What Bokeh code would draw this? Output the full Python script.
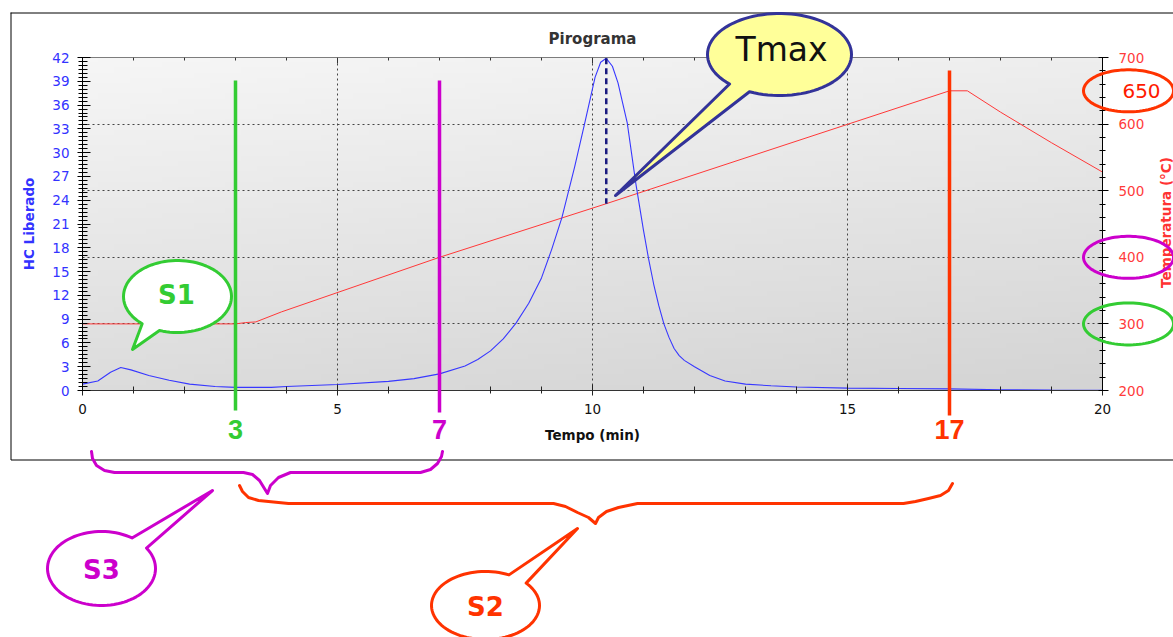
import numpy as np
from bokeh.plotting import figure
from bokeh.layouts import column
from bokeh.models import Range1d, LinearAxis, SingleIntervalTicker, FixedTicker
from bokeh.core.properties import value
from bokeh.embed import file_html
from bokeh.resources import INLINE

# ---- pyrolysis run: hydrocarbons released vs. time ----
time_min = [0.0, 0.3, 0.55, 0.75, 0.95, 1.3, 1.7, 2.1, 2.6, 3.0, 3.7, 4.0, 5.0, 6.0, 6.5,
            7.0, 7.5, 7.75, 8.0, 8.25, 8.5, 8.75, 9.0, 9.2, 9.4, 9.65, 9.85, 10.05, 10.16,
            10.27, 10.39, 10.5, 10.68, 10.85, 11.0, 11.1, 11.2, 11.3, 11.4, 11.5, 11.6,
            11.7, 11.8, 12.0, 12.3, 12.6, 13.0, 13.5, 14.0, 15.0, 16.0, 17.0, 18.0, 19.0,
            20.0]
hc_released = [0.8, 1.2, 2.3, 2.9, 2.6, 1.9, 1.3, 0.8, 0.5, 0.4, 0.4, 0.5, 0.75, 1.15, 1.5,
               2.1, 3.1, 3.9, 5.0, 6.5, 8.5, 11.0, 14.2, 17.8, 21.8, 28.2, 33.8, 39.5, 41.4,
               41.9, 40.9, 38.8, 33.8, 26.1, 20.2, 16.6, 13.4, 10.7, 8.4, 6.7, 5.3,
               4.4, 3.8, 3.0, 1.9, 1.2, 0.8, 0.6, 0.45, 0.3, 0.25, 0.2, 0.1, 0.05,
               0.02]

# ---- oven temperature programme ----
time_temp = [0.0, 3.0, 3.2, 3.4, 3.9, 7.0, 10.25, 17.0, 17.35, 18.0, 19.0, 20.0]
temperature = [300, 300, 302, 303, 318, 400, 480, 650, 650, 618, 572, 528]

# ---- phase boundaries (min) and highlighted temperatures (°C) ----
marker_times = [3, 7, 17]
marker_labels = ["3", "7", "17"]
marker_colors = ["#33cc33", "#cc00cc", "#ff3300"]
temp_marks = [650, 400, 300]
temp_mark_colors = ["#ff3300", "#cc00cc", "#33cc33"]

# ---- axes ----
X_END, HC_END = 20, 42
T_START, T_END = 200, 700

W, H = 1173, 637
FL, FR, FT, FB = 82, 1102, 57, 390      # frame edges on the canvas


def cx(px):
    return (px - FL) / (FR - FL) * X_END


def cy(py):
    return (FB - py) / (FB - FT) * HC_END


def t2hc(t):
    return (t - T_START) / (T_END - T_START) * HC_END


def t2py(t):
    return FB - (t - T_START) / (T_END - T_START) * (FB - FT)


FONT = "DejaVu Sans"
BLUE = "#3838ff"
RED = "#ff3838"

p = figure(width=W, height=H, x_range=Range1d(0, X_END), y_range=Range1d(0, HC_END),
           output_backend="svg", toolbar_location=None, title="Pirograma",
           min_border_left=FL, min_border_right=W - FR, min_border_top=FT,
           min_border_bottom=H - FB)
p.extra_y_ranges = {"temp": Range1d(T_START, T_END)}
p.border_fill_color = "white"
p.outline_line_color = "#555555"

p.title.align = "center"
p.title.text_font = FONT
p.title.text_font_size = "15px"
p.title.text_font_style = "bold"
p.title.text_color = "#333333"
p.title.standoff = 19

# background gradient of the plotting area
ny, nx = 64, 64
yy, xx = np.meshgrid(np.linspace(0, 1, ny), np.linspace(0, 1, nx), indexing="ij")
gray = (212 + 26 * yy + 8 * (1 - xx)).astype(np.uint8)
img = np.empty((ny, nx), dtype=np.uint32)
view = img.view(dtype=np.uint8).reshape((ny, nx, 4))
view[:, :, 0] = gray
view[:, :, 1] = gray
view[:, :, 2] = gray
view[:, :, 3] = 255
p.image_rgba(image=[img], x=0, y=0, dw=X_END, dh=HC_END, level="image")

# bottom axis
xa = p.xaxis[0]
xa.ticker = SingleIntervalTicker(interval=5, num_minor_ticks=5)
xa.axis_label = "Tempo (min)"
xa.axis_label_text_font = FONT
xa.axis_label_text_font_size = "13.5px"
xa.axis_label_text_font_style = "bold"
xa.axis_label_text_color = "#111111"
xa.axis_label_standoff = 10
xa.major_label_text_font = FONT
xa.major_label_text_font_size = "13.5px"
xa.major_label_text_color = "#111111"
xa.major_label_standoff = 8
xa.major_tick_in, xa.major_tick_out = 6, 5
xa.minor_tick_in, xa.minor_tick_out = 4, 3
xa.axis_line_color = "#333333"
xa.major_tick_line_color = "#222222"
xa.minor_tick_line_color = "#222222"

# left axis: hydrocarbons
ya = p.yaxis[0]
ya.ticker = SingleIntervalTicker(interval=3, num_minor_ticks=6)
ya.axis_label = "HC Liberado"
ya.axis_label_text_font = FONT
ya.axis_label_text_font_size = "13.5px"
ya.axis_label_text_font_style = "bold"
ya.axis_label_text_color = "#3333ff"
ya.axis_label_standoff = 12
ya.major_label_text_font = FONT
ya.major_label_text_font_size = "13.5px"
ya.major_label_text_color = "#3333ff"
ya.major_label_standoff = 8
ya.major_tick_in, ya.major_tick_out = 8, 5
ya.minor_tick_in, ya.minor_tick_out = 5, 4
ya.axis_line_color = "black"
ya.major_tick_line_color = "black"
ya.minor_tick_line_color = "black"

# right axis: temperature
ra = LinearAxis(y_range_name="temp",
                ticker=SingleIntervalTicker(interval=100, num_minor_ticks=5))
ra.major_label_text_font = FONT
ra.major_label_text_font_size = "13.5px"
ra.major_label_text_color = "#ff3b3b"
ra.major_label_standoff = 10
ra.major_tick_in, ra.major_tick_out = 4, 6
ra.minor_tick_in, ra.minor_tick_out = 3, 3
ra.axis_line_color = "black"
p.add_layout(ra, "right")

# tick marks along the top edge (pointing inward)
px_to_hc = HC_END / (FB - FT)
top_ticks = list(range(0, X_END + 1))
top_len = [6 if t % 5 == 0 else 3 for t in top_ticks]
p.segment(x0=top_ticks, y0=[HC_END] * len(top_ticks), x1=top_ticks,
          y1=[HC_END - n * px_to_hc for n in top_len], line_color="#333333", line_width=1)

# dotted grid
p.xgrid[0].ticker = FixedTicker(ticks=[5, 10, 15])
p.ygrid[0].y_range_name = "temp"
p.ygrid[0].ticker = FixedTicker(ticks=[300, 400, 500, 600])
for g in (p.xgrid[0], p.ygrid[0]):
    g.grid_line_color = "#444444"
    g.grid_line_dash = "2 3"
    g.grid_line_width = 1

# curves
p.line(time_temp, temperature, y_range_name="temp", color=RED, line_width=1)
p.line(time_min, hc_released, color=BLUE, line_width=1.1)

# Tmax: drop line from the S2 peak down to the temperature curve
i_peak = int(np.argmax(hc_released))
t_peak = time_min[i_peak]
temp_at_peak = float(np.interp(t_peak, time_temp, temperature))
p.segment(x0=[t_peak], y0=[hc_released[i_peak]], x1=[t_peak], y1=[t2hc(temp_at_peak)],
          line_color="#1a1a80", line_width=2.5, line_dash="6 4")

# ---- transparent overlay spanning the whole canvas for the hand-drawn notes ----
# Same data units as the chart, extended to the canvas edges.
d = figure(width=W, height=H, x_range=Range1d(cx(0), cx(W)), y_range=Range1d(cy(H), cy(0)),
           output_backend="svg", toolbar_location=None, x_axis_type=None,
           y_axis_type=None, min_border=0)
d.outline_line_color = None
d.background_fill_color = None
d.border_fill_color = None
d.margin = (-H, 0, 0, 0)
# keep each canvas' frame independent inside the stacked layout
for fig in (p, d):
    if "frame_align" in fig.properties():
        fig.frame_align = False


def path(pts_px, color, width, fill=None):
    xs = [cx(a) for a, _ in pts_px]
    ys = [cy(b) for _, b in pts_px]
    if fill is None:
        d.line(xs, ys, line_color=color, line_width=width, line_join="round",
               line_cap="round")
    else:
        d.patch(xs, ys, line_color=color, line_width=width, line_join="round",
                fill_color=fill)


def ellipse_pts(c, r, n=90):
    th = np.linspace(0, 2 * np.pi, n + 1)
    return list(zip(c[0] + r[0] * np.cos(th), c[1] + r[1] * np.sin(th)))


def bubble_pts(c, r, a, b, tip, n=90):
    ta = np.arctan2((a[1] - c[1]) / r[1], (a[0] - c[0]) / r[0])
    tb = np.arctan2((b[1] - c[1]) / r[1], (b[0] - c[0]) / r[0])
    if (tb - ta) % (2 * np.pi) > np.pi:
        ta, tb = tb, ta
    th = np.linspace(tb, tb + ((ta - tb) % (2 * np.pi)), n)
    pts = list(zip(c[0] + r[0] * np.cos(th), c[1] + r[1] * np.sin(th)))
    return pts + [tip]


def text(px, py, s, color, size, bold=True, font=FONT, angle=0.0):
    d.text(x=[cx(px)], y=[cy(py)], text=[s], text_color=color,
           text_font=value(font), text_font_size=size,
           text_font_style="bold" if bold else "normal",
           text_align="center", text_baseline="middle", angle=angle)


# outer frame of the figure
path([(10.5, 12.5), (1190, 12.5), (1190, 459.5), (10.5, 459.5), (10.5, 12.5)], "black", 1)

# right-hand axis title
text(1165, 222, "Temperatura (°C)", "#ff3333", "13.5px", angle=np.pi / 2)

# phase boundary lines with their labels
line_tops = [80, 80, 70]
line_bottoms = [410, 412, 415]
d.segment(x0=marker_times, y0=[cy(v) for v in line_tops], x1=marker_times,
          y1=[cy(v) for v in line_bottoms], line_color=marker_colors, line_width=3.5)
d.text(x=marker_times, y=[cy(429)] * len(marker_times), text=marker_labels,
       text_color=marker_colors, text_font=value("Liberation Sans"),
       text_font_size="27px", text_font_style="bold", text_align="center",
       text_baseline="middle")

# circled temperatures on the right axis
for tv, col in zip(temp_marks, temp_mark_colors):
    path(ellipse_pts((1128, t2py(tv)), (45, 21)), col, 3)
text(1141, t2py(temp_marks[0]), str(temp_marks[0]), "#ff1a00", "20px", bold=False)

# braces under the time axis
path([(91, 451), (92, 458), (96, 465), (104, 470), (114, 472), (243, 472), (252, 474),
      (259, 480), (267, 493), (270, 485), (278, 477), (290, 472), (420, 472), (430, 469),
      (437, 463), (441, 456), (442, 451)], "#cc00cc", 3)
path([(239, 485), (242, 491), (248, 497), (258, 500), (268, 501), (288, 503), (553, 503),
      (565, 506), (577, 512), (588, 517), (595, 523), (598, 517), (606, 511), (618, 507),
      (637, 503), (903, 503), (915, 501), (928, 498), (940, 495), (948, 490), (952, 483)],
     "#ff3300", 3)

# speech bubbles
path(bubble_pts((779, 54), (72, 41), (730, 83), (750, 90), (615, 195)),
     "#333399", 3, fill="#ffff99")
text(781, 49, "Tmax", "#111111", "33px", bold=False)

path(bubble_pts((177, 296), (54, 36), (142, 323), (160, 328), (132, 349)),
     "#33cc33", 3, fill="white")
text(176, 294, "S1", "#33cc33", "26px")

path(bubble_pts((101, 568), (54, 37), (130, 539), (145, 548), (212, 490)),
     "#cc00cc", 3, fill="white")
text(101, 569, "S3", "#cc00cc", "26px")

path(bubble_pts((485, 605), (54, 34), (508, 575), (525, 583), (577, 528)),
     "#ff3300", 3, fill="white")
text(485, 606, "S2", "#ff3300", "26px")

layout = column(p, d)
open("out.html", "w").write(file_html(layout, INLINE))
